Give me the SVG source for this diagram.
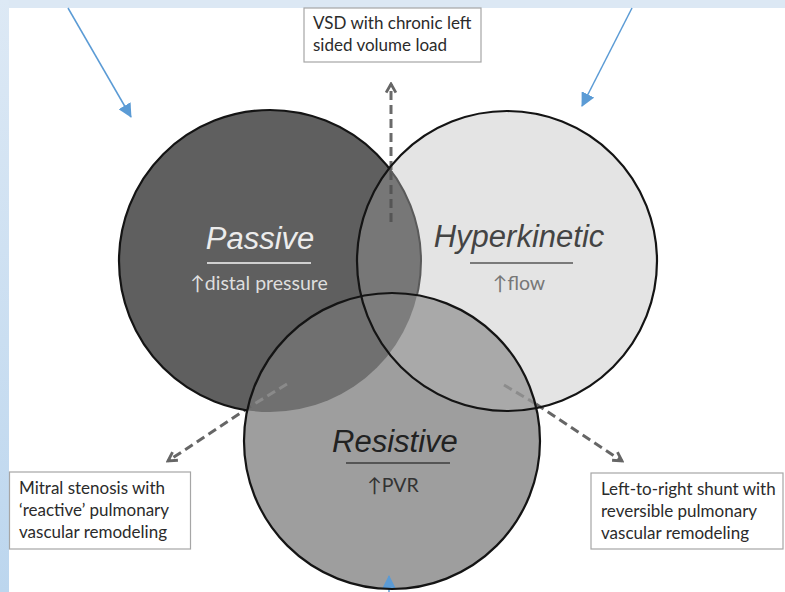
<svg xmlns="http://www.w3.org/2000/svg" width="785" height="592" viewBox="0 0 785 592">
<style>
.box{fill:#fff;stroke:#a6a6a6;stroke-width:1.2}
.bt{font-family:Lato,"Open Sans","Liberation Sans",sans-serif;font-size:17px;fill:#2b2b2b}
.title{font-family:"Liberation Sans",Arial,sans-serif;font-style:italic;font-size:31px}
.sub{font-family:Lato,"Open Sans","Liberation Sans",sans-serif;font-size:19.5px}
.dash{fill:none;stroke-width:3;stroke-dasharray:9 5}
.blue{stroke:#5b9bd5;stroke-width:1.5;fill:none}
.outline{fill:none;stroke:#141414;stroke-width:2.2}
</style>
<defs>
<linearGradient id="bandG" x1="0" y1="0" x2="0" y2="1">
<stop offset="0" stop-color="#dde9f5"/>
<stop offset="1" stop-color="#bcd6ee"/>
</linearGradient>
<clipPath id="cP"><circle cx="270" cy="261" r="151"/></clipPath>
<clipPath id="cH"><circle cx="507" cy="261" r="150"/></clipPath>
<clipPath id="cR"><circle cx="392" cy="441" r="148"/></clipPath>
<mask id="mOutHR"><rect width="785" height="592" fill="#fff"/><circle cx="507" cy="261" r="150" fill="#000"/><circle cx="392" cy="441" r="148" fill="#000"/></mask>
<mask id="mOutR"><rect width="785" height="592" fill="#fff"/><circle cx="392" cy="441" r="148" fill="#000"/></mask>
<marker id="chev" viewBox="0 0 12 12" refX="10" refY="6" markerWidth="13" markerHeight="13" markerUnits="userSpaceOnUse" orient="auto">
<path d="M2,1.5 L10,6 L2,10.5" fill="none" stroke="#666" stroke-width="2.6"/>
</marker>
<marker id="bhead" viewBox="0 0 14 14" refX="13" refY="7" markerWidth="14" markerHeight="14" markerUnits="userSpaceOnUse" orient="auto">
<path d="M0,0 L14,7 L0,14 Z" fill="#5b9bd5"/>
</marker>
</defs>
<rect width="785" height="592" fill="#fff"/>
<rect x="0" y="0" width="785" height="8" fill="#dce8f4"/>
<rect x="0" y="0" width="9" height="592" fill="url(#bandG)"/>

<g id="venn-fills">
<circle cx="270" cy="261" r="151" fill="#5f5f5f"/>
<circle cx="507" cy="261" r="150" fill="#e4e4e4"/>
<g clip-path="url(#cP)"><circle cx="507" cy="261" r="150" fill="#777777"/></g>
<circle cx="392" cy="441" r="148" fill="#9e9e9e"/>
<g clip-path="url(#cR)"><circle cx="270" cy="261" r="151" fill="#707070"/></g>
<g clip-path="url(#cR)"><circle cx="507" cy="261" r="150" fill="#a9a9a9"/></g>
<g clip-path="url(#cR)"><g clip-path="url(#cP)"><circle cx="507" cy="261" r="150" fill="#7d7d7d"/></g></g>
</g>

<g id="connectors">
<line x1="391" y1="222" x2="391" y2="170" class="dash" stroke="#555"/>
<line x1="391" y1="170" x2="391" y2="84" class="dash" stroke="#6a6a6a" marker-end="url(#chev)"/>
<line x1="287" y1="384" x2="251" y2="406" class="dash" stroke="#8a8a8a" stroke-width="2.5"/>
<line x1="251" y1="406" x2="168" y2="461" class="dash" stroke="#666" marker-end="url(#chev)"/>
<line x1="504" y1="385" x2="536" y2="404" class="dash" stroke="#8c8c8c" stroke-width="2.5"/>
<line x1="536" y1="404" x2="622" y2="461" class="dash" stroke="#666" marker-end="url(#chev)"/>
<line x1="68" y1="8" x2="131" y2="117" class="blue" marker-end="url(#bhead)"/>
<line x1="632" y1="8" x2="582" y2="106" class="blue" marker-end="url(#bhead)"/>
<line x1="389" y1="600" x2="389" y2="576" class="blue" marker-end="url(#bhead)"/>
</g>

<g id="passive">
<circle cx="270" cy="261" r="151" class="outline" mask="url(#mOutHR)"/>
<g clip-path="url(#cH)"><circle cx="270" cy="261" r="151" fill="none" stroke="#5a5a5a" stroke-width="2" mask="url(#mOutR)"/></g>
<text x="260" y="249" class="title" fill="#ececec" text-anchor="middle">Passive</text>
<line x1="207" y1="263" x2="311" y2="263" stroke="#d0d0d0" stroke-width="2"/>
<text x="259" y="290" class="sub" fill="#dedede" text-anchor="middle">↑distal pressure</text>
</g>

<g id="hyperkinetic">
<circle cx="507" cy="261" r="150" class="outline"/>
<text x="519" y="247" class="title" fill="#444" text-anchor="middle">Hyperkinetic</text>
<line x1="470" y1="263" x2="573" y2="263" stroke="#7a7a7a" stroke-width="2"/>
<text x="519" y="290" class="sub" fill="#777" text-anchor="middle">↑flow</text>
</g>

<g id="resistive">
<circle cx="392" cy="441" r="148" class="outline"/>
<text x="395" y="452" class="title" fill="#222" text-anchor="middle" font-size="30">Resistive</text>
<line x1="346" y1="463" x2="450" y2="463" stroke="#555" stroke-width="2"/>
<text x="393" y="492" class="sub" fill="#333" text-anchor="middle">↑PVR</text>
</g>

<g id="box-vsd">
<rect x="304" y="8" width="177" height="54" class="box"/>
<text x="313" y="29" class="bt">VSD with chronic left</text>
<text x="313" y="51" class="bt">sided volume load</text>
</g>

<g id="box-mitral">
<rect x="9.5" y="472" width="181" height="77" class="box"/>
<text x="19" y="494" class="bt">Mitral stenosis with</text>
<text x="19" y="516" class="bt">‘reactive’ pulmonary</text>
<text x="19" y="538" class="bt">vascular remodeling</text>
</g>

<g id="box-shunt">
<rect x="591" y="473" width="192" height="76" class="box"/>
<text x="601" y="495" class="bt">Left-to-right shunt with</text>
<text x="601" y="517" class="bt">reversible pulmonary</text>
<text x="601" y="539" class="bt">vascular remodeling</text>
</g>
</svg>
